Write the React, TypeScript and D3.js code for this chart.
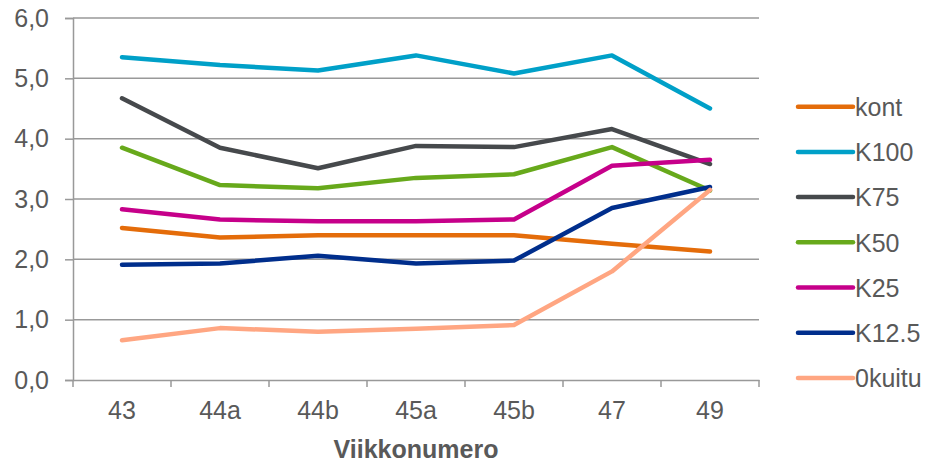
import React, { useEffect, useRef } from "react";
import * as d3 from "d3";

const weeks = ["43", "44a", "44b", "45a", "45b", "47", "49"];
const seriesNames = ["kont", "K100", "K75", "K50", "K25", "K12.5", "0kuitu"];
const colors = ["#E46C0A", "#00A0C8", "#46494C", "#67A91B", "#C6008A", "#002E8C", "#FFA682"];

const kont = [2.52, 2.36, 2.4, 2.4, 2.4, 2.26, 2.13];
const k100 = [5.35, 5.22, 5.13, 5.38, 5.08, 5.38, 4.5];
const k75 = [4.67, 3.85, 3.51, 3.88, 3.86, 4.16, 3.58];
const k50 = [3.85, 3.23, 3.18, 3.35, 3.41, 3.86, 3.14];
const k25 = [2.83, 2.66, 2.63, 2.63, 2.66, 3.55, 3.65];
const k125 = [1.91, 1.93, 2.06, 1.93, 1.98, 2.85, 3.2];
const kuitu0 = [0.66, 0.86, 0.8, 0.85, 0.91, 1.8, 3.15];

const yTicks = [0, 1, 2, 3, 4, 5, 6];

export default function App() {
  const svgRef = useRef<SVGSVGElement>(null);

  useEffect(() => {
    const width = 932;
    const height = 463;
    const margin = { top: 18, right: 173, bottom: 83, left: 73 };
    const font = "'Liberation Sans', Arial, sans-serif";
    const textColor = "#595959";
    const gridColor = "#999999";

    const svg = d3.select(svgRef.current).attr("width", width).attr("height", height);
    svg.selectAll("*").remove();

    const allSeries = [kont, k100, k75, k50, k25, k125, kuitu0];

    const x = d3
      .scaleBand()
      .domain(weeks)
      .range([margin.left, width - margin.right]);
    const y = d3
      .scaleLinear()
      .domain([0, 6])
      .range([height - margin.bottom, margin.top]);

    // gridlines
    svg
      .append("g")
      .selectAll("line")
      .data(yTicks.slice(1))
      .join("line")
      .attr("x1", margin.left)
      .attr("x2", width - margin.right)
      .attr("y1", (d) => y(d))
      .attr("y2", (d) => y(d))
      .attr("stroke", gridColor)
      .attr("stroke-width", 1.5);

    // y axis
    const yAxis = svg
      .append("g")
      .attr("transform", `translate(${margin.left},0)`)
      .call(
        d3
          .axisLeft(y)
          .tickValues(yTicks)
          .tickSize(8)
          .tickPadding(16)
          .tickFormat((d) => d3.format(".1f")(d as number).replace(".", ","))
      );
    yAxis.select(".domain").attr("stroke", gridColor).attr("stroke-width", 1.5);
    yAxis.selectAll(".tick line").attr("stroke", gridColor).attr("stroke-width", 1.5);
    yAxis
      .selectAll(".tick text")
      .attr("fill", textColor)
      .style("font-family", font)
      .style("font-size", "25px");

    // x axis
    const xAxis = svg
      .append("g")
      .attr("transform", `translate(0,${y(0)})`)
      .call(d3.axisBottom(x).tickSize(0).tickPadding(21));
    xAxis.select(".domain").attr("stroke", gridColor).attr("stroke-width", 1.5);
    xAxis
      .selectAll(".tick text")
      .attr("fill", textColor)
      .style("font-family", font)
      .style("font-size", "25px");

    const bounds = weeks.map((w) => x(w) as number).concat([width - margin.right]);
    svg
      .append("g")
      .selectAll("line")
      .data(bounds)
      .join("line")
      .attr("x1", (d) => d)
      .attr("x2", (d) => d)
      .attr("y1", y(0))
      .attr("y2", y(0) + 7)
      .attr("stroke", gridColor)
      .attr("stroke-width", 1.5);

    svg
      .append("text")
      .attr("x", (margin.left + width - margin.right) / 2)
      .attr("y", 458)
      .attr("text-anchor", "middle")
      .attr("fill", textColor)
      .style("font-family", font)
      .style("font-size", "25px")
      .style("font-weight", "bold")
      .text("Viikkonumero");

    const line = d3
      .line<number>()
      .x((d, i) => (x(weeks[i]) as number) + x.bandwidth() / 2)
      .y((d) => y(d));

    svg
      .append("g")
      .selectAll("path")
      .data(allSeries)
      .join("path")
      .attr("d", (d) => line(d))
      .attr("fill", "none")
      .attr("stroke", (d, i) => colors[i])
      .attr("stroke-width", 4.5)
      .attr("stroke-linecap", "round")
      .attr("stroke-linejoin", "round");

    // legend
    const legend = svg
      .append("g")
      .selectAll("g")
      .data(seriesNames)
      .join("g")
      .attr("transform", (d, i) => `translate(798,${106.7 + i * 45.2})`);
    legend
      .append("line")
      .attr("x1", 0)
      .attr("x2", 55)
      .attr("stroke", (d, i) => colors[i])
      .attr("stroke-width", 4.5)
      .attr("stroke-linecap", "round");
    legend
      .append("text")
      .attr("x", 57)
      .attr("dy", "0.37em")
      .attr("fill", textColor)
      .style("font-family", font)
      .style("font-size", "25px")
      .text((d) => d);
  }, []);

  return (
    <div style={{ position: "absolute", left: 0, top: 0 }}>
      <svg ref={svgRef} style={{ display: "block" }}></svg>
    </div>
  );
}
